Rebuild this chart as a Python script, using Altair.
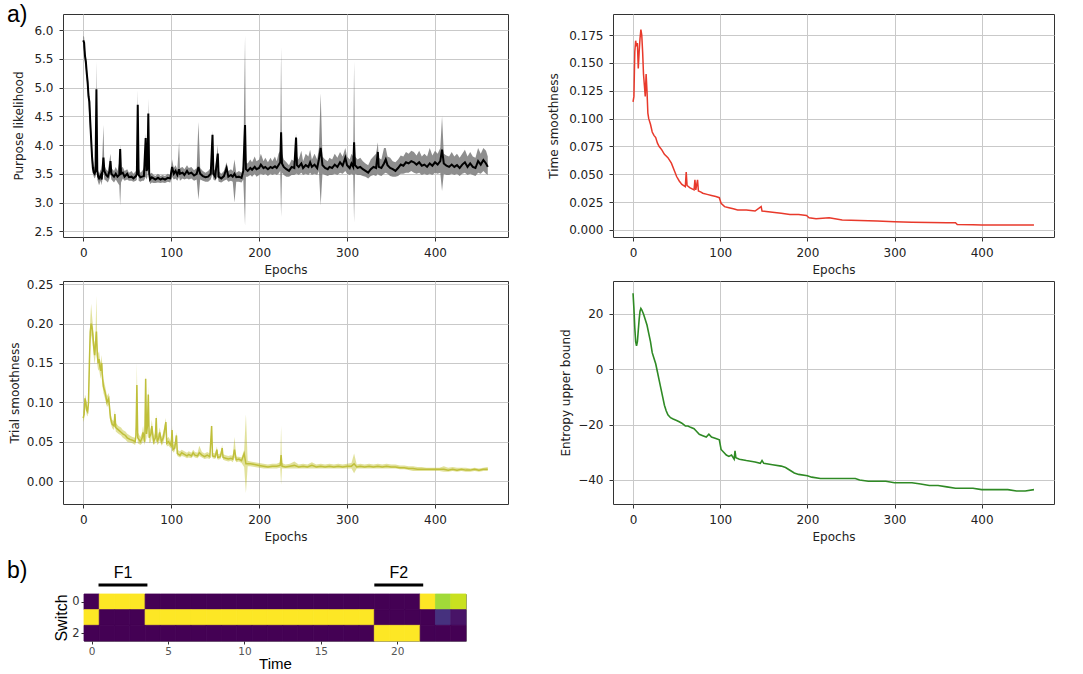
import altair as alt
import pandas as pd

# ---------------- data ----------------
# (epoch, mean, lower, upper)
PURPOSE = [
    (0, 5.82, 5.70, 5.90), (1, 5.78, 5.62, 5.88), (2, 5.55, 5.40, 5.65), (3, 5.45, 5.30, 5.55),
    (4, 5.25, 5.10, 5.35), (5, 5.10, 4.95, 5.25), (6, 4.85, 4.70, 5.00), (7, 4.75, 4.45, 4.85),
    (8, 4.40, 4.20, 4.60), (9, 4.10, 3.90, 4.25), (10, 3.80, 3.65, 3.95), (11, 3.60, 3.50, 3.75),
    (12, 3.52, 3.45, 3.65), (13, 3.50, 3.42, 3.60), (14, 3.55, 3.45, 3.75), (15, 4.97, 4.60, 5.45),
    (16, 3.55, 3.40, 3.70), (17, 3.45, 3.35, 3.55), (18, 3.42, 3.30, 3.50), (20, 3.48, 3.38, 3.58),
    (21, 3.40, 3.30, 3.50), (23, 3.78, 3.55, 4.35), (24, 3.55, 3.40, 3.65), (26, 3.48, 3.38, 3.58),
    (28, 3.45, 3.35, 3.55), (30, 3.55, 3.42, 3.75), (31, 3.72, 3.50, 3.85), (32, 3.50, 3.40, 3.60),
    (35, 3.45, 3.35, 3.55), (37, 3.50, 3.40, 3.62), (39, 3.45, 3.35, 3.55), (41, 3.48, 3.30, 3.70),
    (42, 3.93, 2.95, 4.00), (43, 3.50, 3.35, 3.60), (45, 3.52, 3.42, 3.62), (47, 3.45, 3.38, 3.55),
    (50, 3.50, 3.40, 3.58), (52, 3.44, 3.38, 3.52), (55, 3.45, 3.38, 3.55), (57, 3.42, 3.36, 3.50),
    (60, 3.46, 3.38, 3.55), (61, 3.50, 3.40, 3.70), (62, 4.70, 4.40, 4.95), (63, 3.48, 3.38, 3.60),
    (65, 3.44, 3.36, 3.52), (67, 3.45, 3.38, 3.55), (69, 3.46, 3.38, 3.60), (71, 4.12, 3.45, 4.20),
    (72, 3.55, 3.40, 3.65), (73, 3.60, 3.45, 3.70), (74, 4.55, 4.30, 4.80), (75, 3.50, 3.40, 3.60),
    (76, 3.40, 3.32, 3.50), (78, 3.44, 3.35, 3.52), (80, 3.42, 3.34, 3.48), (82, 3.40, 3.34, 3.46),
    (85, 3.43, 3.35, 3.50), (88, 3.40, 3.34, 3.46), (90, 3.42, 3.35, 3.48), (93, 3.40, 3.34, 3.46),
    (96, 3.43, 3.36, 3.50), (99, 3.42, 3.35, 3.48), (101, 3.62, 3.45, 3.75), (103, 3.50, 3.40, 3.60),
    (105, 3.55, 3.42, 3.65), (107, 3.48, 3.38, 3.58), (109, 3.58, 3.45, 4.05), (110, 3.50, 3.38, 3.60),
    (113, 3.52, 3.42, 3.62), (115, 3.48, 3.40, 3.58), (118, 3.55, 3.42, 3.65), (120, 3.50, 3.40, 3.60),
    (123, 3.52, 3.42, 3.62), (126, 3.47, 3.38, 3.56), (129, 3.50, 3.40, 3.60), (131, 3.62, 3.05, 4.40),
    (133, 3.50, 3.40, 3.60), (136, 3.46, 3.38, 3.55), (139, 3.44, 3.36, 3.52), (142, 3.45, 3.36, 3.55),
    (145, 3.50, 3.40, 3.60), (147, 4.18, 3.50, 4.25), (148, 3.50, 3.40, 3.60), (150, 3.45, 3.38, 3.55),
    (153, 3.85, 3.45, 4.00), (154, 3.45, 3.36, 3.55), (157, 3.42, 3.35, 3.50), (160, 3.46, 3.38, 3.55),
    (163, 3.60, 3.40, 3.70), (165, 3.45, 3.36, 3.55), (168, 3.48, 3.38, 3.58), (170, 3.45, 3.36, 3.55),
    (172, 3.50, 3.00, 3.75), (174, 3.44, 3.36, 3.52), (177, 3.45, 3.36, 3.55), (180, 3.43, 3.35, 3.52),
    (182, 3.55, 3.40, 3.65), (184, 4.35, 2.60, 5.90), (185, 3.58, 3.45, 3.70), (187, 3.55, 3.45, 3.68),
    (190, 3.60, 3.48, 3.75), (192, 3.57, 3.45, 3.70), (195, 3.62, 3.50, 3.80), (197, 3.58, 3.45, 3.72),
    (200, 3.60, 3.48, 3.75), (202, 3.66, 3.50, 3.85), (205, 3.60, 3.48, 3.72), (207, 3.62, 3.50, 3.78),
    (210, 3.58, 3.46, 3.70), (213, 3.62, 3.50, 3.78), (215, 3.60, 3.48, 3.72), (218, 3.63, 3.50, 3.80),
    (220, 3.60, 3.48, 3.72), (222, 3.65, 3.50, 3.85), (224, 3.70, 3.55, 3.90), (225, 4.22, 2.75, 5.70),
    (226, 3.68, 3.52, 3.85), (228, 3.62, 3.48, 3.75), (231, 3.58, 3.45, 3.70), (234, 3.55, 3.45, 3.65),
    (237, 3.62, 3.48, 3.75), (240, 3.60, 3.48, 3.72), (242, 4.13, 3.50, 4.20), (243, 3.65, 3.50, 3.80),
    (245, 3.62, 3.48, 3.75), (248, 3.68, 3.52, 3.90), (250, 3.60, 3.48, 3.72), (253, 3.65, 3.50, 3.85),
    (256, 3.62, 3.48, 3.80), (258, 3.70, 3.52, 3.92), (260, 3.62, 3.48, 3.75), (263, 3.66, 3.50, 3.85),
    (266, 3.60, 3.48, 3.75), (268, 3.75, 3.55, 3.95), (270, 3.95, 2.95, 4.90), (272, 3.65, 3.50, 3.80),
    (275, 3.60, 3.48, 3.75), (278, 3.58, 3.46, 3.72), (280, 3.62, 3.48, 3.78), (283, 3.60, 3.48, 3.75),
    (286, 3.66, 3.50, 3.85), (289, 3.62, 3.48, 3.78), (292, 3.70, 3.52, 3.88), (295, 3.64, 3.50, 3.80),
    (298, 3.78, 3.55, 3.95), (300, 3.65, 3.50, 3.80), (303, 3.60, 3.48, 3.75), (305, 3.68, 3.50, 3.85),
    (307, 3.62, 3.48, 3.80), (308, 4.05, 2.65, 5.45), (309, 3.65, 3.50, 3.80), (312, 3.60, 3.48, 3.75),
    (315, 3.62, 3.48, 3.78), (318, 3.58, 3.46, 3.72), (321, 3.55, 3.45, 3.68), (324, 3.52, 3.42, 3.65),
    (327, 3.58, 3.46, 3.75), (330, 3.62, 3.48, 3.80), (333, 3.60, 3.46, 3.85), (335, 3.88, 3.50, 4.05),
    (336, 3.62, 3.48, 3.78), (339, 3.60, 3.46, 3.75), (342, 3.68, 3.50, 3.95), (344, 3.75, 3.52, 3.95),
    (346, 3.65, 3.50, 3.80), (349, 3.60, 3.46, 3.78), (352, 3.58, 3.45, 3.72), (355, 3.55, 3.45, 3.70),
    (358, 3.60, 3.46, 3.75), (361, 3.66, 3.50, 3.82), (364, 3.64, 3.50, 3.80), (367, 3.70, 3.52, 3.88),
    (370, 3.68, 3.52, 3.85), (373, 3.72, 3.55, 3.90), (376, 3.70, 3.52, 3.88), (379, 3.66, 3.50, 3.82),
    (382, 3.70, 3.52, 3.90), (385, 3.64, 3.48, 3.80), (388, 3.66, 3.50, 3.85), (391, 3.62, 3.48, 3.80),
    (394, 3.68, 3.50, 3.95), (397, 3.64, 3.48, 3.82), (400, 3.70, 3.52, 3.90), (403, 3.66, 3.50, 3.85),
    (406, 3.72, 3.52, 3.95), (408, 3.92, 3.20, 4.50), (410, 3.68, 3.50, 3.85), (413, 3.64, 3.48, 3.82),
    (416, 3.62, 3.48, 3.80), (419, 3.66, 3.50, 3.88), (422, 3.62, 3.48, 3.80), (425, 3.65, 3.50, 3.85),
    (428, 3.60, 3.46, 3.78), (431, 3.66, 3.50, 3.85), (434, 3.70, 3.52, 3.92), (437, 3.62, 3.48, 3.80),
    (440, 3.68, 3.50, 3.88), (443, 3.62, 3.48, 3.80), (446, 3.60, 3.46, 3.78), (449, 3.72, 3.52, 3.95),
    (452, 3.66, 3.50, 3.85), (455, 3.74, 3.55, 3.95), (458, 3.68, 3.50, 3.90), (460, 3.62, 3.48, 3.80),
]

# (epoch, value)
TIME_SMOOTH = [
    (0, 0.115), (1, 0.120), (2, 0.160), (3, 0.170), (4, 0.165), (5, 0.168), (6, 0.145), (7, 0.160),
    (8, 0.172), (9, 0.180), (10, 0.175), (11, 0.160), (12, 0.140), (13, 0.130), (14, 0.120), (15, 0.140),
    (16, 0.125), (17, 0.105), (18, 0.100), (20, 0.095), (22, 0.088), (24, 0.085), (26, 0.083), (28, 0.078),
    (30, 0.075), (33, 0.072), (36, 0.068), (40, 0.065), (44, 0.060), (48, 0.052), (50, 0.048), (53, 0.044),
    (56, 0.041), (60, 0.039), (61, 0.052), (62, 0.040), (65, 0.038), (70, 0.036), (71, 0.045), (72, 0.036),
    (74, 0.045), (75, 0.035), (78, 0.034), (80, 0.033), (85, 0.032), (90, 0.031), (95, 0.030), (99, 0.029),
    (101, 0.024), (105, 0.021), (110, 0.020), (115, 0.019), (120, 0.018), (130, 0.018), (140, 0.017),
    (147, 0.021), (148, 0.017), (160, 0.016), (170, 0.015), (180, 0.014), (190, 0.014), (199, 0.013),
    (202, 0.011), (210, 0.010), (225, 0.011), (240, 0.009), (260, 0.0085), (280, 0.008), (300, 0.0075),
    (320, 0.007), (340, 0.0068), (360, 0.0065), (370, 0.0065), (372, 0.005), (390, 0.0048), (400, 0.0045),
    (420, 0.0045), (440, 0.0045), (460, 0.0045),
]

# (epoch, mean, lower, upper)
TRIAL_SMOOTH = [
    (0, 0.080, 0.075, 0.088), (1, 0.085, 0.078, 0.092), (2, 0.105, 0.095, 0.110), (3, 0.100, 0.090, 0.106),
    (4, 0.090, 0.084, 0.096), (5, 0.088, 0.082, 0.094), (6, 0.100, 0.092, 0.108), (7, 0.150, 0.135, 0.165),
    (8, 0.190, 0.175, 0.205), (9, 0.200, 0.185, 0.225), (10, 0.195, 0.180, 0.210), (11, 0.185, 0.170, 0.198),
    (12, 0.170, 0.158, 0.182), (13, 0.160, 0.148, 0.172), (14, 0.175, 0.160, 0.190), (15, 0.190, 0.170, 0.235),
    (16, 0.160, 0.148, 0.175), (17, 0.150, 0.140, 0.162), (18, 0.155, 0.142, 0.165), (19, 0.145, 0.135, 0.155),
    (20, 0.140, 0.130, 0.150), (21, 0.150, 0.138, 0.160), (22, 0.130, 0.120, 0.140), (23, 0.120, 0.112, 0.130),
    (25, 0.112, 0.104, 0.120), (27, 0.100, 0.094, 0.108), (29, 0.105, 0.097, 0.112), (31, 0.080, 0.074, 0.086),
    (33, 0.072, 0.067, 0.078), (35, 0.070, 0.065, 0.076), (36, 0.085, 0.076, 0.090), (37, 0.068, 0.063, 0.074),
    (40, 0.065, 0.060, 0.070), (43, 0.062, 0.058, 0.068), (45, 0.060, 0.055, 0.065), (48, 0.058, 0.053, 0.063),
    (50, 0.055, 0.050, 0.060), (53, 0.053, 0.049, 0.058), (56, 0.052, 0.048, 0.056), (59, 0.050, 0.046, 0.055),
    (60, 0.058, 0.050, 0.070), (61, 0.122, 0.100, 0.150), (62, 0.055, 0.048, 0.062), (65, 0.050, 0.046, 0.056),
    (67, 0.055, 0.048, 0.062), (68, 0.062, 0.052, 0.070), (70, 0.050, 0.046, 0.056), (71, 0.130, 0.110, 0.135),
    (72, 0.060, 0.052, 0.068), (73, 0.070, 0.058, 0.080), (74, 0.110, 0.095, 0.120), (75, 0.055, 0.048, 0.062),
    (77, 0.060, 0.050, 0.068), (78, 0.070, 0.058, 0.078), (80, 0.050, 0.046, 0.056), (82, 0.055, 0.048, 0.062),
    (83, 0.080, 0.065, 0.085), (84, 0.050, 0.046, 0.056), (86, 0.055, 0.048, 0.062), (87, 0.062, 0.052, 0.068),
    (89, 0.050, 0.045, 0.055), (91, 0.055, 0.048, 0.062), (94, 0.075, 0.062, 0.080), (95, 0.048, 0.044, 0.054),
    (97, 0.050, 0.045, 0.056), (100, 0.045, 0.041, 0.050), (101, 0.065, 0.055, 0.070), (102, 0.040, 0.036, 0.045),
    (104, 0.042, 0.038, 0.048), (106, 0.058, 0.048, 0.062), (107, 0.035, 0.032, 0.040), (110, 0.033, 0.030, 0.038),
    (112, 0.036, 0.032, 0.040), (115, 0.034, 0.031, 0.038), (118, 0.032, 0.029, 0.036), (120, 0.034, 0.030, 0.038),
    (123, 0.032, 0.029, 0.036), (125, 0.036, 0.032, 0.040), (127, 0.033, 0.030, 0.037), (130, 0.032, 0.029, 0.036),
    (132, 0.036, 0.032, 0.045), (135, 0.033, 0.030, 0.037), (138, 0.031, 0.028, 0.035), (141, 0.033, 0.029, 0.037),
    (144, 0.031, 0.028, 0.035), (146, 0.070, 0.055, 0.072), (147, 0.032, 0.029, 0.036), (150, 0.031, 0.028, 0.035),
    (152, 0.040, 0.033, 0.044), (153, 0.030, 0.027, 0.034), (156, 0.031, 0.028, 0.035), (158, 0.042, 0.035, 0.046),
    (159, 0.030, 0.027, 0.034), (162, 0.029, 0.026, 0.033), (165, 0.028, 0.025, 0.032), (168, 0.029, 0.026, 0.033),
    (170, 0.028, 0.024, 0.032), (172, 0.040, 0.030, 0.056), (174, 0.027, 0.024, 0.031), (177, 0.028, 0.025, 0.031),
    (180, 0.026, 0.023, 0.030), (183, 0.035, 0.018, 0.040), (185, 0.022, -0.015, 0.085), (187, 0.022, 0.019, 0.026),
    (190, 0.022, 0.019, 0.025), (195, 0.021, 0.018, 0.024), (200, 0.020, 0.017, 0.023), (205, 0.019, 0.016, 0.022),
    (210, 0.018, 0.016, 0.021), (215, 0.019, 0.016, 0.022), (220, 0.019, 0.016, 0.022), (224, 0.020, 0.017, 0.024),
    (225, 0.033, -0.005, 0.070), (226, 0.019, 0.016, 0.023), (230, 0.018, 0.016, 0.021), (235, 0.019, 0.016, 0.022),
    (240, 0.020, 0.016, 0.025), (245, 0.018, 0.016, 0.021), (250, 0.019, 0.016, 0.022), (255, 0.018, 0.016, 0.021),
    (260, 0.020, 0.016, 0.024), (265, 0.018, 0.016, 0.021), (270, 0.019, 0.016, 0.022), (275, 0.018, 0.016, 0.021),
    (280, 0.019, 0.016, 0.022), (285, 0.018, 0.016, 0.021), (290, 0.019, 0.016, 0.022), (295, 0.018, 0.016, 0.021),
    (300, 0.019, 0.016, 0.022), (305, 0.019, 0.016, 0.023), (308, 0.022, 0.010, 0.035), (311, 0.018, 0.016, 0.021),
    (315, 0.019, 0.016, 0.022), (320, 0.018, 0.016, 0.021), (325, 0.019, 0.016, 0.022), (330, 0.018, 0.016, 0.021),
    (335, 0.019, 0.016, 0.022), (340, 0.018, 0.016, 0.021), (345, 0.019, 0.016, 0.022), (350, 0.018, 0.016, 0.021),
    (355, 0.018, 0.016, 0.021), (360, 0.017, 0.015, 0.020), (365, 0.017, 0.015, 0.020), (370, 0.016, 0.014, 0.019),
    (375, 0.016, 0.013, 0.019), (380, 0.015, 0.013, 0.018), (385, 0.015, 0.013, 0.018), (390, 0.015, 0.013, 0.017),
    (395, 0.015, 0.013, 0.017), (400, 0.015, 0.013, 0.017), (405, 0.015, 0.013, 0.017), (410, 0.015, 0.012, 0.019),
    (415, 0.014, 0.012, 0.017), (420, 0.015, 0.013, 0.018), (425, 0.014, 0.012, 0.017), (430, 0.015, 0.013, 0.017),
    (435, 0.014, 0.012, 0.017), (440, 0.014, 0.012, 0.016), (445, 0.015, 0.013, 0.017), (450, 0.014, 0.012, 0.016),
    (455, 0.015, 0.013, 0.017), (460, 0.015, 0.013, 0.018),
]

# (epoch, value)
ENTROPY = [
    (0, 27.5), (1, 22), (2, 15), (3, 10), (4, 8.5), (5, 10), (6, 14), (7, 18), (8, 21), (9, 22), (10, 21.5),
    (12, 20), (14, 18), (16, 16), (18, 13), (20, 10), (22, 6), (24, 4), (26, 2), (28, -1), (30, -4),
    (32, -7), (34, -10), (36, -13), (38, -15), (40, -16.5), (43, -17.5), (46, -18), (50, -18.5), (53, -19),
    (56, -19.5), (60, -20.5), (63, -20.5), (66, -21), (70, -21.5), (73, -22.5), (76, -23.5), (80, -24),
    (84, -24.5), (87, -23.5), (90, -24.5), (95, -25), (99, -25.5), (101, -29), (104, -30), (107, -31),
    (110, -31.5), (113, -31), (116, -32.5), (117, -29.5), (118, -32), (122, -32.5), (130, -33), (140, -33.5),
    (146, -34), (148, -33), (150, -34), (160, -34.5), (170, -35), (175, -35.5), (180, -36.5), (185, -37.5),
    (190, -38), (200, -38.5), (205, -39), (215, -39.5), (225, -39.5), (235, -39.5), (245, -39.5), (255, -39.5),
    (260, -40), (270, -40.5), (280, -40.5), (290, -40.5), (300, -41), (310, -41), (320, -41), (330, -41.5),
    (340, -42), (350, -42), (360, -42.5), (370, -43), (380, -43), (390, -43), (400, -43.5), (410, -43.5),
    (420, -43.5), (430, -43.5), (440, -44), (450, -44), (460, -43.5),
]

# heatmap (panel b): switch probability per time step
SWITCH_ROW0 = [0, 1, 1, 1, 0, 0, 0, 0, 0, 0, 0, 0, 0, 0, 0, 0, 0, 0, 0, 0, 0, 0, 1, 0.86, 0.92]
SWITCH_ROW1 = [1, 0, 0, 0, 1, 1, 1, 1, 1, 1, 1, 1, 1, 1, 1, 1, 1, 1, 1, 0, 0, 0, 0, 0.14, 0.05]
SWITCH_ROW2 = [0, 0, 0, 0, 0, 0, 0, 0, 0, 0, 0, 0, 0, 0, 0, 0, 0, 0, 0, 1, 1, 1, 0, 0, 0]
F_LABELS = ["F1", "F2"]
F_START = [0.45, 18.5]
F_END = [3.65, 21.7]

X_TICKS = [0, 100, 200, 300, 400]
P1_TICKS = [2.5, 3.0, 3.5, 4.0, 4.5, 5.0, 5.5, 6.0]
P2_TICKS = [0, 0.025, 0.05, 0.075, 0.1, 0.125, 0.15, 0.175]
P3_TICKS = [0, 0.05, 0.1, 0.15, 0.2, 0.25]
P4_TICKS = [-40, -20, 0, 20]

# ---------------- build tables ----------------
df1 = pd.DataFrame(PURPOSE, columns=["epoch", "mean", "lo", "hi"])
df2 = pd.DataFrame(TIME_SMOOTH, columns=["epoch", "mean"])
df3 = pd.DataFrame(TRIAL_SMOOTH, columns=["epoch", "mean", "lo", "hi"])
df4 = pd.DataFrame(ENTROPY, columns=["epoch", "mean"])

heat_rows = []
for r, row in enumerate([SWITCH_ROW0, SWITCH_ROW1, SWITCH_ROW2]):
    for t, v in enumerate(row):
        heat_rows.append({"time": t, "switch": r, "value": v})
dfh = pd.DataFrame(heat_rows)
dff = pd.DataFrame({"label": F_LABELS, "start": F_START, "end": F_END})

FONT = "DejaVu Sans"
XDOM = [-23, 483]
W1, W2, H = 445, 441, 223


def xenc():
    return alt.X("epoch:Q", scale=alt.Scale(domain=XDOM, nice=False, zero=False),
                 axis=alt.Axis(values=X_TICKS, title="Epochs", format="d"))


def yaxis(title, values, fmt, tpad=5):
    return alt.Axis(title=title, values=values, format=fmt, titlePadding=tpad, labelOverlap=False)


# panel 1
ax1 = yaxis("Purpose likelihood", P1_TICKS, ".1f", 8)
sc1 = alt.Scale(domain=[2.40, 6.28], nice=False, zero=False)
p1_band = alt.Chart(df1).mark_area(color="#7a7a7a", opacity=0.85).encode(
    x=xenc(), y=alt.Y("lo:Q", scale=sc1, axis=ax1), y2="hi:Q",
)
p1_line = alt.Chart(df1).mark_line(color="black", strokeWidth=2).encode(
    x=xenc(), y=alt.Y("mean:Q", scale=sc1, axis=ax1)
)
p1_lab = alt.Chart(pd.DataFrame({"t": ["a)"]})).mark_text(
    align="left", baseline="middle", fontSize=23, font="Liberation Sans", color="black"
).encode(text="t:N", x=alt.value(-56), y=alt.value(1))
p1 = alt.layer(p1_band, p1_line, p1_lab).properties(width=W1, height=H)

# panel 2
p2 = alt.Chart(df2).mark_line(color="#e8392b", strokeWidth=1.5).encode(
    x=xenc(),
    y=alt.Y("mean:Q", scale=alt.Scale(domain=[-0.0063, 0.194], nice=False, zero=False),
            axis=yaxis("Time smoothness", P2_TICKS, ".3f", 8)),
).properties(width=W2, height=H)

# panel 3
ax3 = yaxis("Trial smoothness", P3_TICKS, ".2f", 5)
sc3 = alt.Scale(domain=[-0.029, 0.254], nice=False, zero=False)
p3_band = alt.Chart(df3).mark_area(color="#bcbd22", opacity=0.45).encode(
    x=xenc(), y=alt.Y("lo:Q", scale=sc3, axis=ax3), y2="hi:Q",
)
p3_line = alt.Chart(df3).mark_line(color="#bfbf3a", strokeWidth=1.5).encode(
    x=xenc(), y=alt.Y("mean:Q", scale=sc3, axis=ax3)
)
p3 = alt.layer(p3_band, p3_line).properties(width=W1, height=H)

# panel 4
p4 = alt.Chart(df4).mark_line(color="#2f8a25", strokeWidth=1.6).encode(
    x=xenc(),
    y=alt.Y("mean:Q", scale=alt.Scale(domain=[-48.7, 31.9], nice=False, zero=False),
            axis=yaxis("Entropy upper bound", P4_TICKS, "d")),
).properties(width=W2, height=H)

# panel b: heatmap
hx = alt.Scale(domain=[-0.5, 24.5], nice=False, zero=False)
hy = alt.Scale(domain=[-0.5, 2.5], nice=False, zero=False, reverse=True)
vir = alt.Scale(scheme="viridis", domain=[0, 1])
heat = alt.Chart(dfh).transform_calculate(
    x0="datum.time - 0.5", x1="datum.time + 0.5",
    y0="datum.switch - 0.5", y1="datum.switch + 0.5",
).mark_rect(strokeWidth=0.8).encode(
    x=alt.X("x0:Q", scale=hx,
            axis=alt.Axis(values=[0, 5, 10, 15, 20], title="Time", format="d", grid=False,
                          labelFontSize=10.5, labelColor="#555", titleFontSize=15,
                          titleFont="Liberation Sans", titleColor="black", titlePadding=0,
                          tickSize=3, labelPadding=2)),
    x2="x1:Q",
    y=alt.Y("y0:Q", scale=hy,
            axis=alt.Axis(values=[0, 2], title="Switch", format="d", grid=False,
                          labelFontSize=11.5, labelColor="#333", titleFontSize=16,
                          titleFont="Liberation Sans", titleColor="black", titlePadding=2,
                          tickSize=3, labelPadding=2)),
    y2="y1:Q",
    color=alt.Color("value:Q", scale=vir, legend=None),
    stroke=alt.Stroke("value:Q", scale=vir, legend=None),
)
fbars = alt.Chart(dff).mark_rule(color="black", strokeWidth=3).encode(
    x="start:Q", x2="end:Q", y=alt.value(-9)
)
ftext = alt.Chart(dff).transform_calculate(mid="(datum.start + datum.end) / 2").mark_text(
    fontSize=16, font="Liberation Sans", color="black", baseline="middle"
).encode(x="mid:Q", y=alt.value(-21), text="label:N")
blab = alt.Chart(pd.DataFrame({"t": ["b)"]})).mark_text(
    align="left", baseline="middle", fontSize=23, font="Liberation Sans", color="black"
).encode(text="t:N", x=alt.value(-77), y=alt.value(-23))
hmap = alt.layer(heat, fbars, ftext, blab).properties(
    width=382, height=47, view=alt.ViewBackground(stroke="#888")
)

spacer = alt.Chart(pd.DataFrame({"v": [0]})).mark_point(opacity=0).encode(
    x=alt.value(0), y=alt.value(0)
).properties(width=1, height=47, view=alt.ViewBackground(stroke="transparent"))

row1 = alt.hconcat(p1, p2, spacing=105, bounds="flush")
row2 = alt.hconcat(p3, p4, spacing=105, bounds="flush")
row3 = alt.hconcat(spacer, hmap, spacing=20, bounds="flush")
top = alt.vconcat(row1, row2, spacing=1)

chart = alt.vconcat(top, row3, spacing=16).properties(
    padding={"left": 6, "top": 3, "right": 5, "bottom": 5}
).configure_view(stroke="#333", strokeWidth=1).configure_axis(
    labelFont=FONT, labelFontSize=12, labelColor="#222",
    titleFont=FONT, titleFontSize=12, titleFontWeight="normal", titleColor="#222",
    gridColor="#c9c9c9", gridWidth=1, domain=False, tickColor="#333", tickSize=4,
    labelPadding=6, titlePadding=6, labelOverlap=False,
)

chart.save("out.html", embed_options={"renderer": "svg", "actions": False})
